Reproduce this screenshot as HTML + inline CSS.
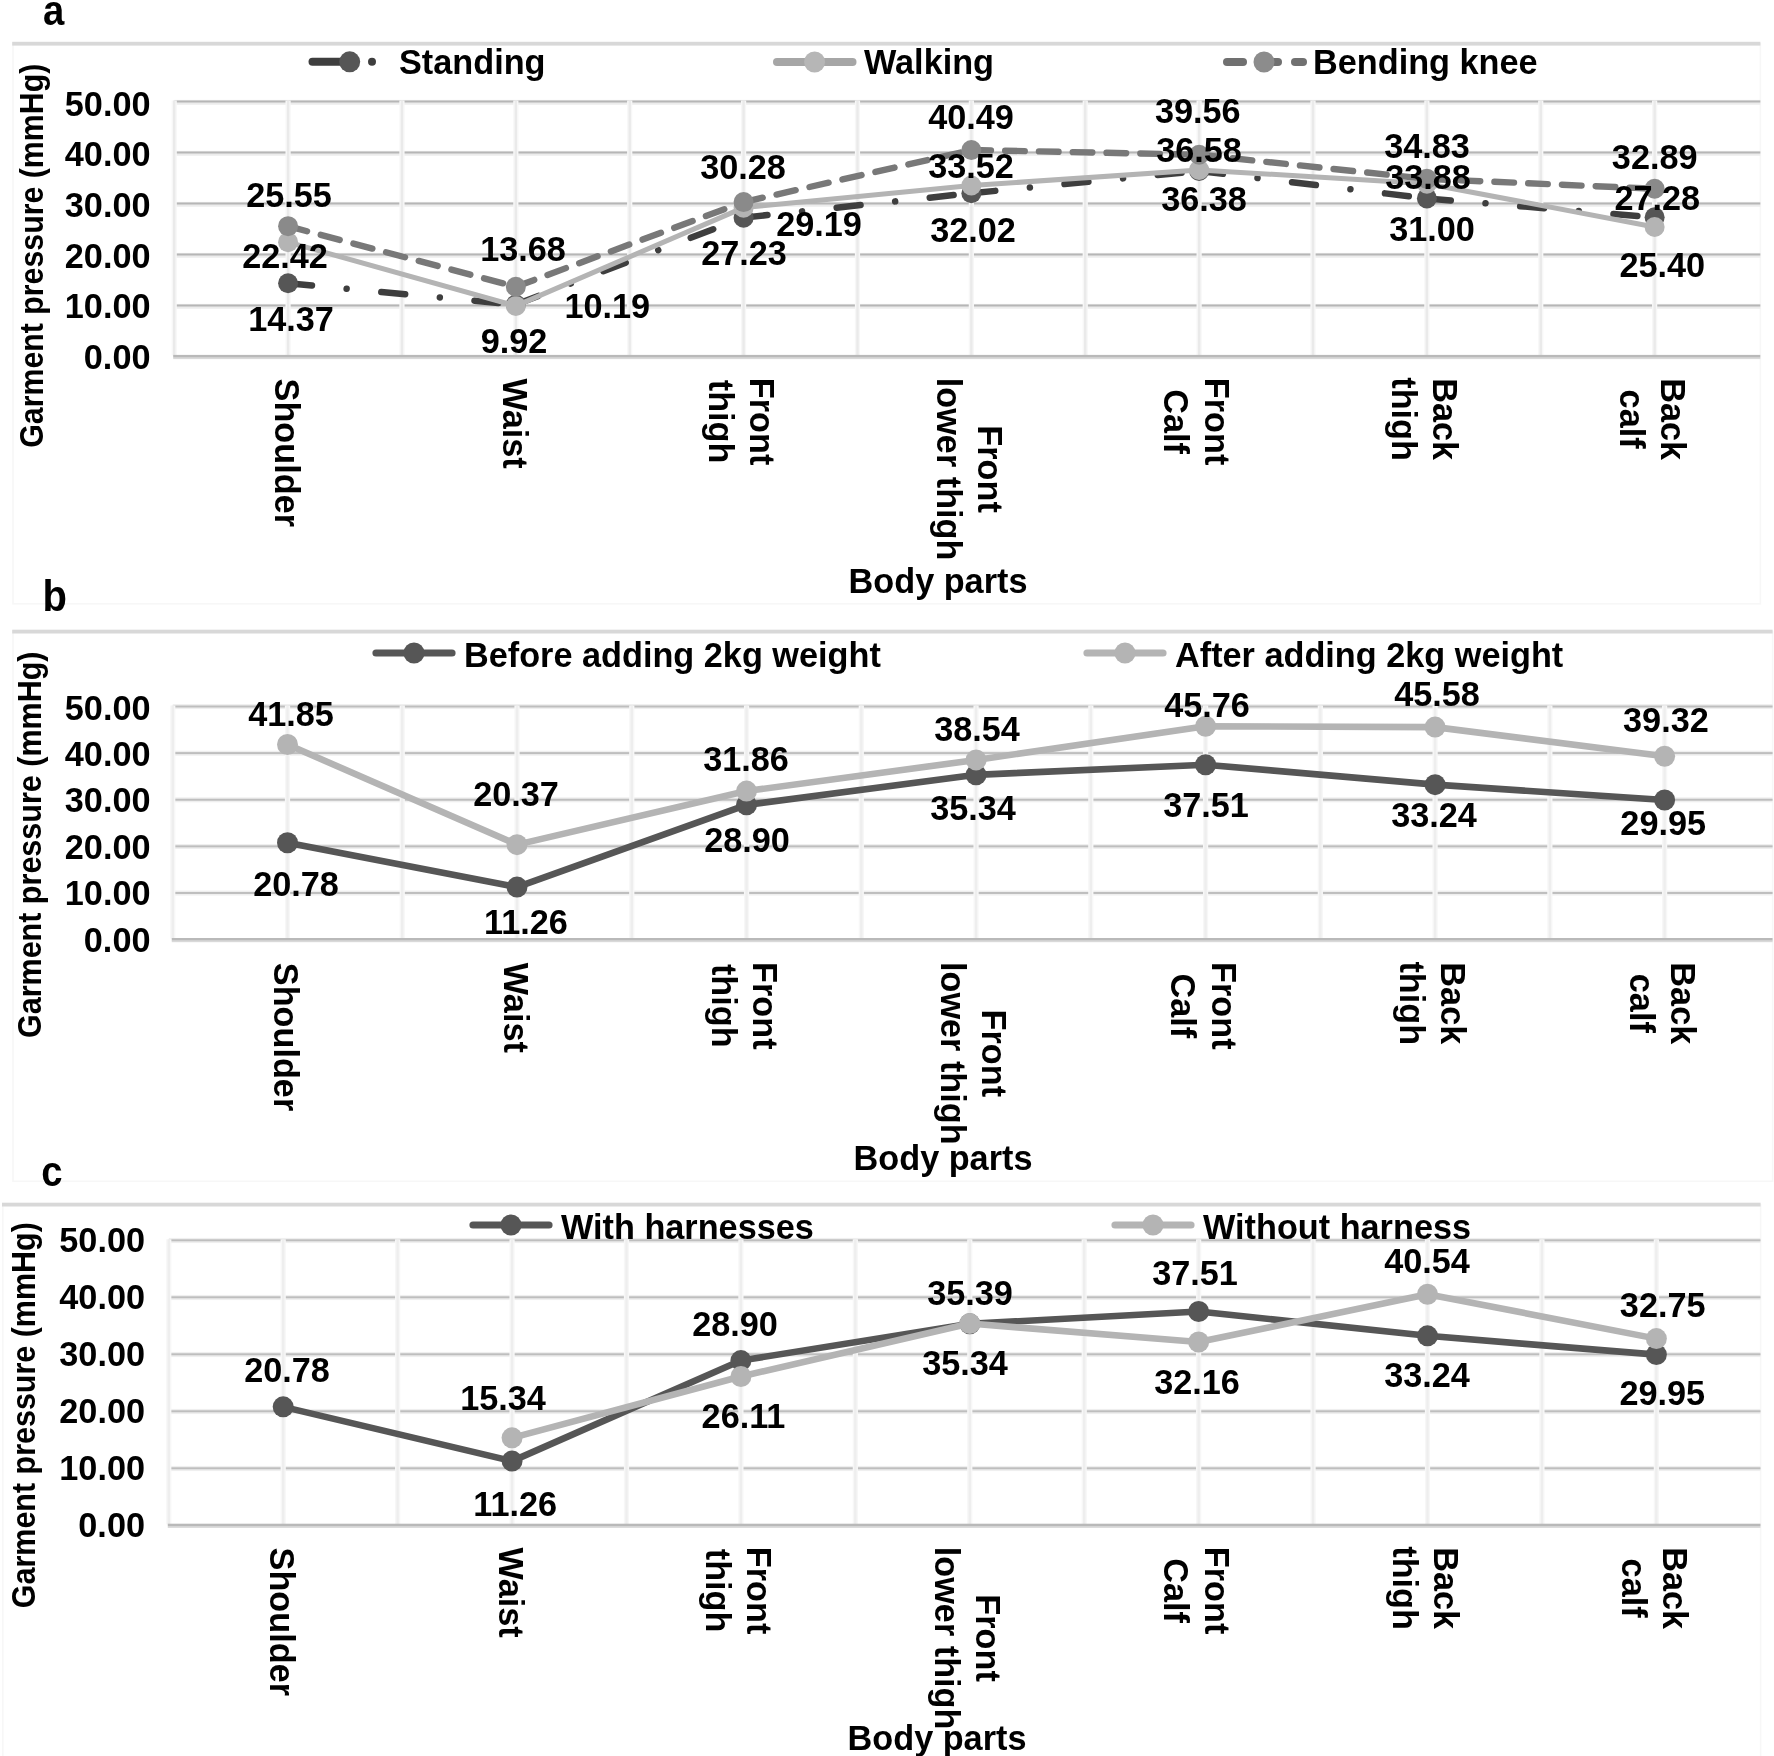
<!DOCTYPE html>
<html lang="en">
<head>
<meta charset="utf-8">
<title>Garment pressure charts</title>
<style>
html,body{margin:0;padding:0;background:#fff;}
body{width:1774px;height:1756px;overflow:hidden;}
svg{display:block;filter:blur(0.45px);}
.t{font-family:"Liberation Sans",sans-serif;font-weight:bold;font-size:34.8px;fill:#000;}
.yl{font-family:"Liberation Sans",sans-serif;font-weight:bold;font-size:33px;fill:#000;}
.pl{font-family:"Liberation Sans",sans-serif;font-weight:bold;fill:#000;}
</style>
</head>
<body>
<svg width="1774" height="1756" viewBox="0 0 1774 1756">
<rect x="0" y="0" width="1774" height="1756" fill="#ffffff"/>
<g>
<rect x="13" y="43.7" width="1747.4" height="560.1" fill="none" stroke="#f7f7f7" stroke-width="1.6"/>
<rect x="12.2" y="41.8" width="1748.2" height="3.8" fill="#d8d8d8"/>
<rect x="174.2" y="303.9" width="1586.1" height="4.8" fill="#ececec"/>
<rect x="174.2" y="304.5" width="1586.1" height="2" fill="#b6b6b6"/>
<rect x="174.2" y="252.9" width="1586.1" height="4.8" fill="#ececec"/>
<rect x="174.2" y="253.5" width="1586.1" height="2" fill="#b6b6b6"/>
<rect x="174.2" y="201.9" width="1586.1" height="4.8" fill="#ececec"/>
<rect x="174.2" y="202.5" width="1586.1" height="2" fill="#b6b6b6"/>
<rect x="174.2" y="150.9" width="1586.1" height="4.8" fill="#ececec"/>
<rect x="174.2" y="151.5" width="1586.1" height="2" fill="#b6b6b6"/>
<rect x="174.2" y="99.9" width="1586.1" height="4.8" fill="#ececec"/>
<rect x="174.2" y="100.5" width="1586.1" height="2" fill="#b6b6b6"/>
<rect x="171.6" y="100.5" width="5.2" height="255" fill="#f7f7f7"/>
<rect x="173" y="100.5" width="2.4" height="255" fill="#eaeaea"/>
<rect x="285.48" y="100.5" width="5.2" height="255" fill="#f7f7f7"/>
<rect x="286.88" y="100.5" width="2.4" height="255" fill="#eaeaea"/>
<rect x="399.36" y="100.5" width="5.2" height="255" fill="#f7f7f7"/>
<rect x="400.76" y="100.5" width="2.4" height="255" fill="#eaeaea"/>
<rect x="513.24" y="100.5" width="5.2" height="255" fill="#f7f7f7"/>
<rect x="514.64" y="100.5" width="2.4" height="255" fill="#eaeaea"/>
<rect x="627.12" y="100.5" width="5.2" height="255" fill="#f7f7f7"/>
<rect x="628.52" y="100.5" width="2.4" height="255" fill="#eaeaea"/>
<rect x="741" y="100.5" width="5.2" height="255" fill="#f7f7f7"/>
<rect x="742.4" y="100.5" width="2.4" height="255" fill="#eaeaea"/>
<rect x="854.88" y="100.5" width="5.2" height="255" fill="#f7f7f7"/>
<rect x="856.28" y="100.5" width="2.4" height="255" fill="#eaeaea"/>
<rect x="968.76" y="100.5" width="5.2" height="255" fill="#f7f7f7"/>
<rect x="970.16" y="100.5" width="2.4" height="255" fill="#eaeaea"/>
<rect x="1082.64" y="100.5" width="5.2" height="255" fill="#f7f7f7"/>
<rect x="1084.04" y="100.5" width="2.4" height="255" fill="#eaeaea"/>
<rect x="1196.52" y="100.5" width="5.2" height="255" fill="#f7f7f7"/>
<rect x="1197.92" y="100.5" width="2.4" height="255" fill="#eaeaea"/>
<rect x="1310.4" y="100.5" width="5.2" height="255" fill="#f7f7f7"/>
<rect x="1311.8" y="100.5" width="2.4" height="255" fill="#eaeaea"/>
<rect x="1424.28" y="100.5" width="5.2" height="255" fill="#f7f7f7"/>
<rect x="1425.68" y="100.5" width="2.4" height="255" fill="#eaeaea"/>
<rect x="1538.16" y="100.5" width="5.2" height="255" fill="#f7f7f7"/>
<rect x="1539.56" y="100.5" width="2.4" height="255" fill="#eaeaea"/>
<rect x="1652.04" y="100.5" width="5.2" height="255" fill="#f7f7f7"/>
<rect x="1653.44" y="100.5" width="2.4" height="255" fill="#eaeaea"/>
<rect x="173.2" y="357.1" width="1587.1" height="2" fill="#d9d9d9"/>
<rect x="173.2" y="354.9" width="1587.1" height="2.4" fill="#b9b9b9"/>
<text class="t" text-anchor="end" transform="translate(150.5 368.8) scale(0.985 1)">0.00</text>
<text class="t" text-anchor="end" transform="translate(150.5 318.22) scale(0.985 1)">10.00</text>
<text class="t" text-anchor="end" transform="translate(150.5 267.64) scale(0.985 1)">20.00</text>
<text class="t" text-anchor="end" transform="translate(150.5 217.06) scale(0.985 1)">30.00</text>
<text class="t" text-anchor="end" transform="translate(150.5 166.48) scale(0.985 1)">40.00</text>
<text class="t" text-anchor="end" transform="translate(150.5 115.9) scale(0.985 1)">50.00</text>
<text class="yl" text-anchor="middle" textLength="384" lengthAdjust="spacingAndGlyphs" transform="translate(43 255.75) rotate(-90)">Garment pressure (mmHg)</text>
<path d="M288.08 283.21 L515.84 304.53" fill="none" stroke="#3e3e3e" stroke-width="6.5" stroke-linecap="round" stroke-dasharray="24 34.8 0.01 34.8"/>
<path d="M515.84 304.53 L743.6 217.63" fill="none" stroke="#3e3e3e" stroke-width="6.5" stroke-linecap="round" stroke-dasharray="24 34.8 0.01 34.8"/>
<path d="M743.6 217.63 L971.36 193.2" fill="none" stroke="#3e3e3e" stroke-width="6.5" stroke-linecap="round" stroke-dasharray="24 34.8 0.01 34.8"/>
<path d="M971.36 193.2 L1199.12 170.96" fill="none" stroke="#3e3e3e" stroke-width="6.5" stroke-linecap="round" stroke-dasharray="24 34.8 0.01 34.8"/>
<path d="M1199.12 170.96 L1426.88 198.4" fill="none" stroke="#3e3e3e" stroke-width="6.5" stroke-linecap="round" stroke-dasharray="24 34.8 0.01 34.8"/>
<path d="M1426.88 198.4 L1654.64 217.37" fill="none" stroke="#3e3e3e" stroke-width="6.5" stroke-linecap="round" stroke-dasharray="24 34.8 0.01 34.8"/>
<circle cx="288.08" cy="283.21" r="10" fill="#565656"/>
<circle cx="515.84" cy="304.53" r="10" fill="#565656"/>
<circle cx="743.6" cy="217.63" r="10" fill="#565656"/>
<circle cx="971.36" cy="193.2" r="10" fill="#565656"/>
<circle cx="1199.12" cy="170.96" r="10" fill="#565656"/>
<circle cx="1426.88" cy="198.4" r="10" fill="#565656"/>
<circle cx="1654.64" cy="217.37" r="10" fill="#565656"/>
<path d="M288.08 242.16 L515.84 305.91 L743.6 207.63 L971.36 185.55 L1199.12 169.94 L1426.88 183.71 L1654.64 226.96" fill="none" stroke="#b4b4b4" stroke-width="5" stroke-linecap="round" stroke-linejoin="round"/>
<circle cx="288.08" cy="242.16" r="10" fill="#b4b4b4"/>
<circle cx="515.84" cy="305.91" r="10" fill="#b4b4b4"/>
<circle cx="743.6" cy="207.63" r="10" fill="#b4b4b4"/>
<circle cx="971.36" cy="185.55" r="10" fill="#b4b4b4"/>
<circle cx="1199.12" cy="169.94" r="10" fill="#b4b4b4"/>
<circle cx="1426.88" cy="183.71" r="10" fill="#b4b4b4"/>
<circle cx="1654.64" cy="226.96" r="10" fill="#b4b4b4"/>
<path d="M288.08 226.19 L515.84 286.73" fill="none" stroke="#787878" stroke-width="6.4" stroke-linecap="round" stroke-dasharray="19.6 14.2"/>
<path d="M515.84 286.73 L743.6 202.07" fill="none" stroke="#787878" stroke-width="6.4" stroke-linecap="round" stroke-dasharray="19.6 14.2"/>
<path d="M743.6 202.07 L971.36 150" fill="none" stroke="#787878" stroke-width="6.4" stroke-linecap="round" stroke-dasharray="19.6 14.2"/>
<path d="M971.36 150 L1199.12 154.74" fill="none" stroke="#787878" stroke-width="6.4" stroke-linecap="round" stroke-dasharray="19.6 14.2"/>
<path d="M1199.12 154.74 L1426.88 178.87" fill="none" stroke="#787878" stroke-width="6.4" stroke-linecap="round" stroke-dasharray="19.6 14.2"/>
<path d="M1426.88 178.87 L1654.64 188.76" fill="none" stroke="#787878" stroke-width="6.4" stroke-linecap="round" stroke-dasharray="19.6 14.2"/>
<circle cx="288.08" cy="226.19" r="10" fill="#8a8a8a"/>
<circle cx="515.84" cy="286.73" r="10" fill="#8a8a8a"/>
<circle cx="743.6" cy="202.07" r="10" fill="#8a8a8a"/>
<circle cx="971.36" cy="150" r="10" fill="#8a8a8a"/>
<circle cx="1199.12" cy="154.74" r="10" fill="#8a8a8a"/>
<circle cx="1426.88" cy="178.87" r="10" fill="#8a8a8a"/>
<circle cx="1654.64" cy="188.76" r="10" fill="#8a8a8a"/>
<text class="t" text-anchor="middle" transform="translate(289 207) scale(0.985 1)">25.55</text>
<text class="t" text-anchor="middle" transform="translate(285 268) scale(0.985 1)">22.42</text>
<text class="t" text-anchor="middle" transform="translate(291 331) scale(0.985 1)">14.37</text>
<text class="t" text-anchor="middle" transform="translate(523 261) scale(0.985 1)">13.68</text>
<text class="t" text-anchor="middle" transform="translate(607.3 318) scale(0.985 1)">10.19</text>
<text class="t" text-anchor="middle" transform="translate(514 353) scale(0.985 1)">9.92</text>
<text class="t" text-anchor="middle" transform="translate(743 179) scale(0.985 1)">30.28</text>
<text class="t" text-anchor="middle" transform="translate(819 236) scale(0.985 1)">29.19</text>
<text class="t" text-anchor="middle" transform="translate(744 265) scale(0.985 1)">27.23</text>
<text class="t" text-anchor="middle" transform="translate(971 129) scale(0.985 1)">40.49</text>
<text class="t" text-anchor="middle" transform="translate(971 178) scale(0.985 1)">33.52</text>
<text class="t" text-anchor="middle" transform="translate(973 242) scale(0.985 1)">32.02</text>
<text class="t" text-anchor="middle" transform="translate(1197.8 123) scale(0.985 1)">39.56</text>
<text class="t" text-anchor="middle" transform="translate(1199 162) scale(0.985 1)">36.58</text>
<text class="t" text-anchor="middle" transform="translate(1204 211) scale(0.985 1)">36.38</text>
<text class="t" text-anchor="middle" transform="translate(1427 158) scale(0.985 1)">34.83</text>
<text class="t" text-anchor="middle" transform="translate(1428 189) scale(0.985 1)">33.88</text>
<text class="t" text-anchor="middle" transform="translate(1432 241) scale(0.985 1)">31.00</text>
<text class="t" text-anchor="middle" transform="translate(1654.7 169) scale(0.985 1)">32.89</text>
<text class="t" text-anchor="middle" transform="translate(1657.3 210) scale(0.985 1)">27.28</text>
<text class="t" text-anchor="middle" transform="translate(1662.3 276.7) scale(0.985 1)">25.40</text>
<path d="M312.5 61.8 H349" fill="none" stroke="#3e3e3e" stroke-width="8" stroke-linecap="round"/>
<circle cx="372" cy="61.8" r="4" fill="#3e3e3e"/>
<circle cx="349.7" cy="61.8" r="10.5" fill="#565656"/>
<text class="t" transform="translate(399 73.5) scale(0.985 1)">Standing</text>
<path d="M777 62 H852.5" fill="none" stroke="#a6a6a6" stroke-width="8" stroke-linecap="round"/>
<circle cx="814.6" cy="62" r="10.5" fill="#b6b6b6"/>
<text class="t" transform="translate(864 73.5) scale(0.985 1)">Walking</text>
<path d="M1227 62 H1243" fill="none" stroke="#707070" stroke-width="8" stroke-linecap="round"/>
<path d="M1264 62 H1278" fill="none" stroke="#707070" stroke-width="8" stroke-linecap="round"/>
<path d="M1295 62 H1303" fill="none" stroke="#707070" stroke-width="8" stroke-linecap="round"/>
<circle cx="1264" cy="62" r="10.5" fill="#8c8c8c"/>
<text class="t" transform="translate(1313 73.5) scale(0.985 1)">Bending knee</text>
<text class="t" transform="translate(274.78 378.6) rotate(90) scale(0.985 1)">Shoulder</text>
<text class="t" transform="translate(502.54 378.6) rotate(90) scale(0.985 1)">Waist</text>
<text class="t" text-anchor="middle" transform="translate(749.8 421.6) rotate(90) scale(0.985 1)">Front</text>
<text class="t" text-anchor="middle" transform="translate(708.8 421.6) rotate(90) scale(0.985 1)">thigh</text>
<text class="t" text-anchor="middle" transform="translate(977.56 469.1) rotate(90) scale(0.985 1)">Front</text>
<text class="t" text-anchor="middle" transform="translate(936.56 469.1) rotate(90) scale(0.985 1)">lower thigh</text>
<text class="t" text-anchor="middle" transform="translate(1205.32 421.6) rotate(90) scale(0.985 1)">Front</text>
<text class="t" text-anchor="middle" transform="translate(1164.32 421.6) rotate(90) scale(0.985 1)">Calf</text>
<text class="t" text-anchor="middle" transform="translate(1433.08 419.1) rotate(90) scale(0.985 1)">Back</text>
<text class="t" text-anchor="middle" transform="translate(1392.08 419.1) rotate(90) scale(0.985 1)">thigh</text>
<text class="t" text-anchor="middle" transform="translate(1660.84 419.1) rotate(90) scale(0.985 1)">Back</text>
<text class="t" text-anchor="middle" transform="translate(1619.84 419.1) rotate(90) scale(0.985 1)">calf</text>
<text class="t" text-anchor="middle" transform="translate(938 593.3) scale(0.985 1)">Body parts</text>
<text class="pl" transform="translate(43 24.6) scale(0.89 1)" font-size="43">a</text>
</g>
<g>
<rect x="13" y="631.6" width="1759.6" height="549.7" fill="none" stroke="#f7f7f7" stroke-width="1.6"/>
<rect x="12.2" y="629.7" width="1760.4" height="3.8" fill="#d8d8d8"/>
<rect x="172.74" y="890.58" width="1599.86" height="5" fill="#efefef"/>
<rect x="172.74" y="891.98" width="1599.86" height="2" fill="#bebebe"/>
<rect x="172.74" y="843.96" width="1599.86" height="5" fill="#efefef"/>
<rect x="172.74" y="845.36" width="1599.86" height="2" fill="#bebebe"/>
<rect x="172.74" y="797.34" width="1599.86" height="5" fill="#efefef"/>
<rect x="172.74" y="798.74" width="1599.86" height="2" fill="#bebebe"/>
<rect x="172.74" y="750.72" width="1599.86" height="5" fill="#efefef"/>
<rect x="172.74" y="752.12" width="1599.86" height="2" fill="#bebebe"/>
<rect x="172.74" y="704.1" width="1599.86" height="5" fill="#efefef"/>
<rect x="172.74" y="705.5" width="1599.86" height="2" fill="#bebebe"/>
<rect x="170.14" y="705.5" width="5.2" height="233.1" fill="#f7f7f7"/>
<rect x="171.54" y="705.5" width="2.4" height="233.1" fill="#eeeeee"/>
<rect x="284.9" y="705.5" width="5.2" height="233.1" fill="#f7f7f7"/>
<rect x="286.3" y="705.5" width="2.4" height="233.1" fill="#eeeeee"/>
<rect x="399.66" y="705.5" width="5.2" height="233.1" fill="#f7f7f7"/>
<rect x="401.06" y="705.5" width="2.4" height="233.1" fill="#eeeeee"/>
<rect x="514.42" y="705.5" width="5.2" height="233.1" fill="#f7f7f7"/>
<rect x="515.82" y="705.5" width="2.4" height="233.1" fill="#eeeeee"/>
<rect x="629.18" y="705.5" width="5.2" height="233.1" fill="#f7f7f7"/>
<rect x="630.58" y="705.5" width="2.4" height="233.1" fill="#eeeeee"/>
<rect x="743.94" y="705.5" width="5.2" height="233.1" fill="#f7f7f7"/>
<rect x="745.34" y="705.5" width="2.4" height="233.1" fill="#eeeeee"/>
<rect x="858.7" y="705.5" width="5.2" height="233.1" fill="#f7f7f7"/>
<rect x="860.1" y="705.5" width="2.4" height="233.1" fill="#eeeeee"/>
<rect x="973.46" y="705.5" width="5.2" height="233.1" fill="#f7f7f7"/>
<rect x="974.86" y="705.5" width="2.4" height="233.1" fill="#eeeeee"/>
<rect x="1088.22" y="705.5" width="5.2" height="233.1" fill="#f7f7f7"/>
<rect x="1089.62" y="705.5" width="2.4" height="233.1" fill="#eeeeee"/>
<rect x="1202.98" y="705.5" width="5.2" height="233.1" fill="#f7f7f7"/>
<rect x="1204.38" y="705.5" width="2.4" height="233.1" fill="#eeeeee"/>
<rect x="1317.74" y="705.5" width="5.2" height="233.1" fill="#f7f7f7"/>
<rect x="1319.14" y="705.5" width="2.4" height="233.1" fill="#eeeeee"/>
<rect x="1432.5" y="705.5" width="5.2" height="233.1" fill="#f7f7f7"/>
<rect x="1433.9" y="705.5" width="2.4" height="233.1" fill="#eeeeee"/>
<rect x="1547.26" y="705.5" width="5.2" height="233.1" fill="#f7f7f7"/>
<rect x="1548.66" y="705.5" width="2.4" height="233.1" fill="#eeeeee"/>
<rect x="1662.02" y="705.5" width="5.2" height="233.1" fill="#f7f7f7"/>
<rect x="1663.42" y="705.5" width="2.4" height="233.1" fill="#eeeeee"/>
<rect x="171.74" y="940.2" width="1600.86" height="2" fill="#d9d9d9"/>
<rect x="171.74" y="938" width="1600.86" height="2.4" fill="#b9b9b9"/>
<text class="t" text-anchor="end" transform="translate(150.5 951.6) scale(0.985 1)">0.00</text>
<text class="t" text-anchor="end" transform="translate(150.5 905.18) scale(0.985 1)">10.00</text>
<text class="t" text-anchor="end" transform="translate(150.5 858.76) scale(0.985 1)">20.00</text>
<text class="t" text-anchor="end" transform="translate(150.5 812.34) scale(0.985 1)">30.00</text>
<text class="t" text-anchor="end" transform="translate(150.5 765.92) scale(0.985 1)">40.00</text>
<text class="t" text-anchor="end" transform="translate(150.5 719.5) scale(0.985 1)">50.00</text>
<text class="yl" text-anchor="middle" textLength="386.5" lengthAdjust="spacingAndGlyphs" transform="translate(40.8 844.8) rotate(-90)">Garment pressure (mmHg)</text>
<path d="M287.5 842.72 L517.02 887.11 L746.54 804.87 L976.06 774.84 L1205.58 764.73 L1435.1 784.64 L1664.62 799.97" fill="none" stroke="#565656" stroke-width="6.6" stroke-linecap="round" stroke-linejoin="round"/>
<circle cx="287.5" cy="842.72" r="10.5" fill="#565656"/>
<circle cx="517.02" cy="887.11" r="10.5" fill="#565656"/>
<circle cx="746.54" cy="804.87" r="10.5" fill="#565656"/>
<circle cx="976.06" cy="774.84" r="10.5" fill="#565656"/>
<circle cx="1205.58" cy="764.73" r="10.5" fill="#565656"/>
<circle cx="1435.1" cy="784.64" r="10.5" fill="#565656"/>
<circle cx="1664.62" cy="799.97" r="10.5" fill="#565656"/>
<path d="M287.5 744.5 L517.02 844.64 L746.54 791.07 L976.06 759.93 L1205.58 726.27 L1435.1 727.11 L1664.62 756.29" fill="none" stroke="#b4b4b4" stroke-width="6.6" stroke-linecap="round" stroke-linejoin="round"/>
<circle cx="287.5" cy="744.5" r="10.5" fill="#b4b4b4"/>
<circle cx="517.02" cy="844.64" r="10.5" fill="#b4b4b4"/>
<circle cx="746.54" cy="791.07" r="10.5" fill="#b4b4b4"/>
<circle cx="976.06" cy="759.93" r="10.5" fill="#b4b4b4"/>
<circle cx="1205.58" cy="726.27" r="10.5" fill="#b4b4b4"/>
<circle cx="1435.1" cy="727.11" r="10.5" fill="#b4b4b4"/>
<circle cx="1664.62" cy="756.29" r="10.5" fill="#b4b4b4"/>
<text class="t" text-anchor="middle" transform="translate(291 726.2) scale(0.985 1)">41.85</text>
<text class="t" text-anchor="middle" transform="translate(296 895.6) scale(0.985 1)">20.78</text>
<text class="t" text-anchor="middle" transform="translate(516 806) scale(0.985 1)">20.37</text>
<text class="t" text-anchor="middle" transform="translate(526 934) scale(0.985 1)">11.26</text>
<text class="t" text-anchor="middle" transform="translate(746 771) scale(0.985 1)">31.86</text>
<text class="t" text-anchor="middle" transform="translate(747 852) scale(0.985 1)">28.90</text>
<text class="t" text-anchor="middle" transform="translate(977 741) scale(0.985 1)">38.54</text>
<text class="t" text-anchor="middle" transform="translate(973 820) scale(0.985 1)">35.34</text>
<text class="t" text-anchor="middle" transform="translate(1207 717) scale(0.985 1)">45.76</text>
<text class="t" text-anchor="middle" transform="translate(1206 817) scale(0.985 1)">37.51</text>
<text class="t" text-anchor="middle" transform="translate(1437 706) scale(0.985 1)">45.58</text>
<text class="t" text-anchor="middle" transform="translate(1434 827) scale(0.985 1)">33.24</text>
<text class="t" text-anchor="middle" transform="translate(1665.9 732.3) scale(0.985 1)">39.32</text>
<text class="t" text-anchor="middle" transform="translate(1663.2 834.8) scale(0.985 1)">29.95</text>
<path d="M376 653 H452" fill="none" stroke="#565656" stroke-width="7.2" stroke-linecap="round"/>
<circle cx="414" cy="653" r="10.5" fill="#565656"/>
<text class="t" transform="translate(464 666.7) scale(0.985 1)">Before adding 2kg weight</text>
<path d="M1087 653 H1163" fill="none" stroke="#b4b4b4" stroke-width="7.2" stroke-linecap="round"/>
<circle cx="1125" cy="653" r="10.5" fill="#b4b4b4"/>
<text class="t" transform="translate(1175 666.7) scale(0.985 1)">After adding 2kg weight</text>
<text class="t" transform="translate(274.2 962.8) rotate(90) scale(0.985 1)">Shoulder</text>
<text class="t" transform="translate(503.72 962.8) rotate(90) scale(0.985 1)">Waist</text>
<text class="t" text-anchor="middle" transform="translate(752.74 1005.8) rotate(90) scale(0.985 1)">Front</text>
<text class="t" text-anchor="middle" transform="translate(711.74 1005.8) rotate(90) scale(0.985 1)">thigh</text>
<text class="t" text-anchor="middle" transform="translate(982.26 1053.3) rotate(90) scale(0.985 1)">Front</text>
<text class="t" text-anchor="middle" transform="translate(941.26 1053.3) rotate(90) scale(0.985 1)">lower thigh</text>
<text class="t" text-anchor="middle" transform="translate(1211.78 1005.8) rotate(90) scale(0.985 1)">Front</text>
<text class="t" text-anchor="middle" transform="translate(1170.78 1005.8) rotate(90) scale(0.985 1)">Calf</text>
<text class="t" text-anchor="middle" transform="translate(1441.3 1003.3) rotate(90) scale(0.985 1)">Back</text>
<text class="t" text-anchor="middle" transform="translate(1400.3 1003.3) rotate(90) scale(0.985 1)">thigh</text>
<text class="t" text-anchor="middle" transform="translate(1670.82 1003.3) rotate(90) scale(0.985 1)">Back</text>
<text class="t" text-anchor="middle" transform="translate(1629.82 1003.3) rotate(90) scale(0.985 1)">calf</text>
<text class="t" text-anchor="middle" transform="translate(943 1170) scale(0.985 1)">Body parts</text>
<text class="pl" transform="translate(42.5 610.5) scale(0.89 1)" font-size="45">b</text>
</g>
<g>
<rect x="2.8" y="1204.6" width="1757.8" height="560" fill="none" stroke="#f7f7f7" stroke-width="1.6"/>
<rect x="2" y="1202.7" width="1758.6" height="3.8" fill="#d8d8d8"/>
<rect x="168.77" y="1465.9" width="1591.73" height="5.2" fill="#efefef"/>
<rect x="168.77" y="1467.3" width="1591.73" height="2" fill="#bebebe"/>
<rect x="168.77" y="1408.9" width="1591.73" height="5.2" fill="#efefef"/>
<rect x="168.77" y="1410.3" width="1591.73" height="2" fill="#bebebe"/>
<rect x="168.77" y="1351.9" width="1591.73" height="5.2" fill="#efefef"/>
<rect x="168.77" y="1353.3" width="1591.73" height="2" fill="#bebebe"/>
<rect x="168.77" y="1294.9" width="1591.73" height="5.2" fill="#efefef"/>
<rect x="168.77" y="1296.3" width="1591.73" height="2" fill="#bebebe"/>
<rect x="168.77" y="1237.9" width="1591.73" height="5.2" fill="#efefef"/>
<rect x="168.77" y="1239.3" width="1591.73" height="2" fill="#bebebe"/>
<rect x="166.17" y="1239.3" width="5.2" height="285" fill="#f7f7f7"/>
<rect x="167.57" y="1239.3" width="2.4" height="285" fill="#eeeeee"/>
<rect x="280.6" y="1239.3" width="5.2" height="285" fill="#f7f7f7"/>
<rect x="282" y="1239.3" width="2.4" height="285" fill="#eeeeee"/>
<rect x="395.03" y="1239.3" width="5.2" height="285" fill="#f7f7f7"/>
<rect x="396.43" y="1239.3" width="2.4" height="285" fill="#eeeeee"/>
<rect x="509.46" y="1239.3" width="5.2" height="285" fill="#f7f7f7"/>
<rect x="510.86" y="1239.3" width="2.4" height="285" fill="#eeeeee"/>
<rect x="623.89" y="1239.3" width="5.2" height="285" fill="#f7f7f7"/>
<rect x="625.29" y="1239.3" width="2.4" height="285" fill="#eeeeee"/>
<rect x="738.32" y="1239.3" width="5.2" height="285" fill="#f7f7f7"/>
<rect x="739.72" y="1239.3" width="2.4" height="285" fill="#eeeeee"/>
<rect x="852.75" y="1239.3" width="5.2" height="285" fill="#f7f7f7"/>
<rect x="854.15" y="1239.3" width="2.4" height="285" fill="#eeeeee"/>
<rect x="967.18" y="1239.3" width="5.2" height="285" fill="#f7f7f7"/>
<rect x="968.58" y="1239.3" width="2.4" height="285" fill="#eeeeee"/>
<rect x="1081.61" y="1239.3" width="5.2" height="285" fill="#f7f7f7"/>
<rect x="1083.01" y="1239.3" width="2.4" height="285" fill="#eeeeee"/>
<rect x="1196.04" y="1239.3" width="5.2" height="285" fill="#f7f7f7"/>
<rect x="1197.44" y="1239.3" width="2.4" height="285" fill="#eeeeee"/>
<rect x="1310.47" y="1239.3" width="5.2" height="285" fill="#f7f7f7"/>
<rect x="1311.87" y="1239.3" width="2.4" height="285" fill="#eeeeee"/>
<rect x="1424.9" y="1239.3" width="5.2" height="285" fill="#f7f7f7"/>
<rect x="1426.3" y="1239.3" width="2.4" height="285" fill="#eeeeee"/>
<rect x="1539.33" y="1239.3" width="5.2" height="285" fill="#f7f7f7"/>
<rect x="1540.73" y="1239.3" width="2.4" height="285" fill="#eeeeee"/>
<rect x="1653.76" y="1239.3" width="5.2" height="285" fill="#f7f7f7"/>
<rect x="1655.16" y="1239.3" width="2.4" height="285" fill="#eeeeee"/>
<rect x="167.77" y="1525.9" width="1592.73" height="2" fill="#d9d9d9"/>
<rect x="167.77" y="1523.7" width="1592.73" height="2.4" fill="#b9b9b9"/>
<text class="t" text-anchor="end" transform="translate(145 1537.1) scale(0.985 1)">0.00</text>
<text class="t" text-anchor="end" transform="translate(145 1480.16) scale(0.985 1)">10.00</text>
<text class="t" text-anchor="end" transform="translate(145 1423.22) scale(0.985 1)">20.00</text>
<text class="t" text-anchor="end" transform="translate(145 1366.28) scale(0.985 1)">30.00</text>
<text class="t" text-anchor="end" transform="translate(145 1309.34) scale(0.985 1)">40.00</text>
<text class="t" text-anchor="end" transform="translate(145 1252.4) scale(0.985 1)">50.00</text>
<text class="yl" text-anchor="middle" textLength="386" lengthAdjust="spacingAndGlyphs" transform="translate(35 1415.2) rotate(-90)">Garment pressure (mmHg)</text>
<path d="M283.2 1406.85 L512.06 1461.12 L740.92 1360.57 L969.78 1323.86 L1198.64 1311.49 L1427.5 1335.83 L1656.36 1354.59" fill="none" stroke="#565656" stroke-width="6.6" stroke-linecap="round" stroke-linejoin="round"/>
<circle cx="283.2" cy="1406.85" r="10.5" fill="#565656"/>
<circle cx="512.06" cy="1461.12" r="10.5" fill="#565656"/>
<circle cx="740.92" cy="1360.57" r="10.5" fill="#565656"/>
<circle cx="969.78" cy="1323.86" r="10.5" fill="#565656"/>
<circle cx="1198.64" cy="1311.49" r="10.5" fill="#565656"/>
<circle cx="1427.5" cy="1335.83" r="10.5" fill="#565656"/>
<circle cx="1656.36" cy="1354.59" r="10.5" fill="#565656"/>
<path d="M512.06 1437.86 L740.92 1376.47 L969.78 1323.58 L1198.64 1341.99 L1427.5 1294.22 L1656.36 1338.62" fill="none" stroke="#b4b4b4" stroke-width="6.6" stroke-linecap="round" stroke-linejoin="round"/>
<circle cx="512.06" cy="1437.86" r="10.5" fill="#b4b4b4"/>
<circle cx="740.92" cy="1376.47" r="10.5" fill="#b4b4b4"/>
<circle cx="969.78" cy="1323.58" r="10.5" fill="#b4b4b4"/>
<circle cx="1198.64" cy="1341.99" r="10.5" fill="#b4b4b4"/>
<circle cx="1427.5" cy="1294.22" r="10.5" fill="#b4b4b4"/>
<circle cx="1656.36" cy="1338.62" r="10.5" fill="#b4b4b4"/>
<text class="t" text-anchor="middle" transform="translate(287 1382) scale(0.985 1)">20.78</text>
<text class="t" text-anchor="middle" transform="translate(503 1410) scale(0.985 1)">15.34</text>
<text class="t" text-anchor="middle" transform="translate(515.2 1516) scale(0.985 1)">11.26</text>
<text class="t" text-anchor="middle" transform="translate(735 1336) scale(0.985 1)">28.90</text>
<text class="t" text-anchor="middle" transform="translate(743.5 1428) scale(0.985 1)">26.11</text>
<text class="t" text-anchor="middle" transform="translate(970 1305) scale(0.985 1)">35.39</text>
<text class="t" text-anchor="middle" transform="translate(965 1375) scale(0.985 1)">35.34</text>
<text class="t" text-anchor="middle" transform="translate(1195 1285) scale(0.985 1)">37.51</text>
<text class="t" text-anchor="middle" transform="translate(1197 1394) scale(0.985 1)">32.16</text>
<text class="t" text-anchor="middle" transform="translate(1427 1273) scale(0.985 1)">40.54</text>
<text class="t" text-anchor="middle" transform="translate(1427 1387) scale(0.985 1)">33.24</text>
<text class="t" text-anchor="middle" transform="translate(1662.7 1317.4) scale(0.985 1)">32.75</text>
<text class="t" text-anchor="middle" transform="translate(1662.3 1404.5) scale(0.985 1)">29.95</text>
<path d="M473 1225 H549" fill="none" stroke="#565656" stroke-width="7.2" stroke-linecap="round"/>
<circle cx="511" cy="1225" r="10.5" fill="#565656"/>
<text class="t" transform="translate(561 1239.3) scale(0.985 1)">With harnesses</text>
<path d="M1115 1225 H1191" fill="none" stroke="#b4b4b4" stroke-width="7.2" stroke-linecap="round"/>
<circle cx="1153" cy="1225" r="10.5" fill="#b4b4b4"/>
<text class="t" transform="translate(1203 1239.3) scale(0.985 1)">Without harness</text>
<text class="t" transform="translate(269.9 1547.6) rotate(90) scale(0.985 1)">Shoulder</text>
<text class="t" transform="translate(498.76 1547.6) rotate(90) scale(0.985 1)">Waist</text>
<text class="t" text-anchor="middle" transform="translate(747.12 1590.6) rotate(90) scale(0.985 1)">Front</text>
<text class="t" text-anchor="middle" transform="translate(706.12 1590.6) rotate(90) scale(0.985 1)">thigh</text>
<text class="t" text-anchor="middle" transform="translate(975.98 1638.1) rotate(90) scale(0.985 1)">Front</text>
<text class="t" text-anchor="middle" transform="translate(934.98 1638.1) rotate(90) scale(0.985 1)">lower thigh</text>
<text class="t" text-anchor="middle" transform="translate(1204.84 1590.6) rotate(90) scale(0.985 1)">Front</text>
<text class="t" text-anchor="middle" transform="translate(1163.84 1590.6) rotate(90) scale(0.985 1)">Calf</text>
<text class="t" text-anchor="middle" transform="translate(1433.7 1588.1) rotate(90) scale(0.985 1)">Back</text>
<text class="t" text-anchor="middle" transform="translate(1392.7 1588.1) rotate(90) scale(0.985 1)">thigh</text>
<text class="t" text-anchor="middle" transform="translate(1662.56 1588.1) rotate(90) scale(0.985 1)">Back</text>
<text class="t" text-anchor="middle" transform="translate(1621.56 1588.1) rotate(90) scale(0.985 1)">calf</text>
<text class="t" text-anchor="middle" transform="translate(937 1750) scale(0.985 1)">Body parts</text>
<text class="pl" transform="translate(41.3 1185.7) scale(0.89 1)" font-size="43">c</text>
</g>
</svg>
</body>
</html>
